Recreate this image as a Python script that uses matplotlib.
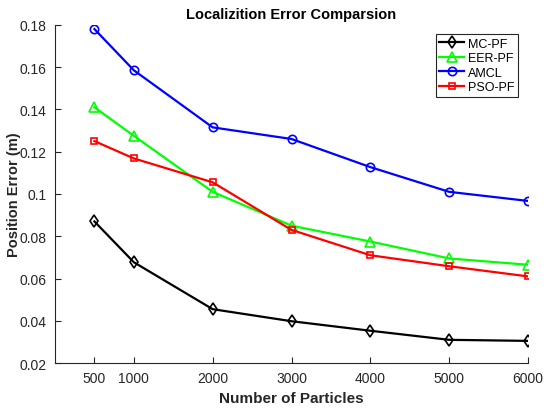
import numpy as np
import matplotlib
matplotlib.use('Agg')
import matplotlib.pyplot as plt

# values
particles = [500, 1000, 2000, 3000, 4000, 5000, 6000]
mc_pf = [0.087, 0.0677, 0.0455, 0.0398, 0.0353, 0.031, 0.0305]
eer_pf = [0.141, 0.1275, 0.101, 0.085, 0.0775, 0.0695, 0.0665]
amcl = [0.178, 0.1585, 0.1315, 0.126, 0.1127, 0.101, 0.0967]
pso_pf = [0.125, 0.1168, 0.1055, 0.083, 0.071, 0.0658, 0.061]

plt.rcParams['font.family'] = ['Liberation Sans', 'DejaVu Sans']

fig = plt.figure(figsize=(5.5, 4.1), dpi=100)
ax = fig.add_axes([0.1, 0.112, 0.86, 0.825])

ax.plot(particles, mc_pf, color='black', marker='d', mfc='none', ms=6,
        mew=1.2, lw=1.6, label='MC-PF')
ax.plot(particles, eer_pf, color='#00ff00', marker='^', mfc='none', ms=7,
        mew=1.2, lw=1.6, label='EER-PF')
ax.plot(particles, amcl, color='blue', marker='o', mfc='none', ms=6,
        mew=1.2, lw=1.6, label='AMCL')
ax.plot(particles, pso_pf, color='red', marker='s', mfc='none', ms=5,
        mew=1.2, lw=1.6, label='PSO-PF')

ax.set_xlim(0, 6000)
ax.set_ylim(0.02, 0.18)
ax.set_xticks(particles)
ax.set_yticks(np.arange(0.02, 0.181, 0.02))
ax.set_yticklabels(['0.02', '0.04', '0.06', '0.08', '0.1', '0.12', '0.14', '0.16', '0.18'])

for s in ['top', 'right']:
    ax.spines[s].set_visible(False)
for s in ['left', 'bottom']:
    ax.spines[s].set_color('#262626')
    ax.spines[s].set_linewidth(0.8)
ax.tick_params(direction='in', length=4, width=0.8, colors='#262626',
               labelsize=10, pad=6)

ax.set_xlabel('Number of Particles', fontsize=11, fontweight='bold', color='#262626')
ax.set_ylabel('Position Error (m)', fontsize=10.5, fontweight='bold', color='#262626')
ax.yaxis.set_label_coords(-0.072, 0.5)
ax.set_title('Localizition Error Comparsion', fontsize=10.5, fontweight='bold', pad=5)

leg = ax.legend(loc='upper right', bbox_to_anchor=(0.985, 0.98), fontsize=9,
                fancybox=False, edgecolor='#262626', handlelength=2.0,
                borderpad=0.3, labelspacing=0.2, handletextpad=0.3,
                borderaxespad=0.2, framealpha=1)
leg.get_frame().set_linewidth(0.8)

fig.savefig('out.png', dpi=100)
